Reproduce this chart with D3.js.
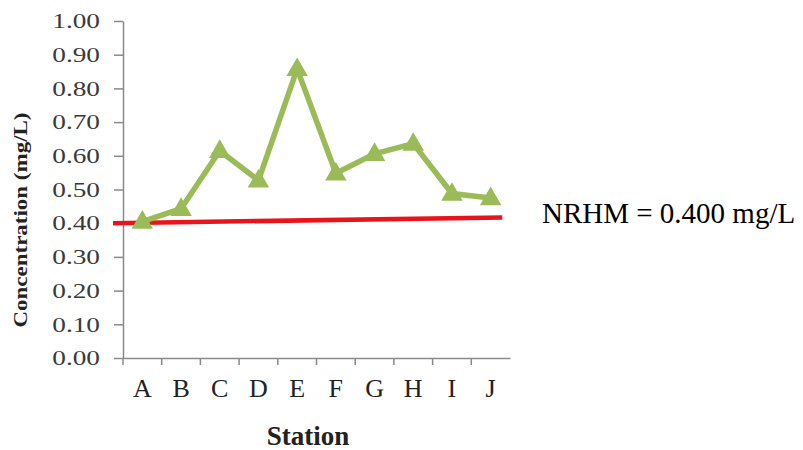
<!DOCTYPE html>
<html>
<head>
<meta charset="utf-8">
<script src="https://cdn.jsdelivr.net/npm/d3@7"></script>
<style>
  body { margin: 0; background: #fff; }
  svg { display: block; font-family: "Liberation Serif", "Times New Roman", serif; }
</style>
</head>
<body>
<div id="vizArea"></div>
<script>
const stations = ['A', 'B', 'C', 'D', 'E', 'F', 'G', 'H', 'I', 'J']
const concentration = [0.405, 0.443, 0.615, 0.527, 0.858, 0.548, 0.606, 0.636, 0.488, 0.475]
const yTicks = [0, 0.1, 0.2, 0.3, 0.4, 0.5, 0.6, 0.7, 0.8, 0.9, 1.0]
// NRHM guideline as drawn (start / end value)
const nrhmLine = [0.40, 0.417]
const nrhmLabel = 'NRHM = 0.400 mg/L'

const width = 803, height = 450
const margin = {top: 21, right: 293, bottom: 92, left: 123}
const plotW = width - margin.left - margin.right
const plotH = height - margin.top - margin.bottom

const svg = d3.select('#vizArea')
    .append('svg')
    .attr('width', width)
    .attr('height', height)

const g = svg.append('g')
    .attr('transform', `translate(${margin.left},${margin.top})`)

const x = d3.scaleBand().domain(stations).range([0, plotW])
const y = d3.scaleLinear().domain([0, 1]).range([plotH, 0])

const axisColor = '#8a8a8a'

// y axis
const sx = 1.3
const yAxis = g.append('g')
    .call(d3.axisLeft(y).tickValues(yTicks).tickFormat(d3.format('.2f')).tickSize(9).tickSizeOuter(0))
yAxis.select('.domain').attr('stroke', axisColor).attr('stroke-width', 1.5)
yAxis.selectAll('.tick line').attr('stroke', axisColor).attr('stroke-width', 1.5)
yAxis.selectAll('.tick text')
    .attr('x', -23 / sx)
    .attr('transform', `scale(${sx},1)`)
    .attr('fill', '#3a3a3a')
    .style('font-size', '21px')
    .style('font-family', '"Liberation Serif", serif')

// x axis
const xAxis = g.append('g')
    .attr('transform', `translate(0,${plotH})`)
    .call(d3.axisBottom(x).tickSize(0).tickPadding(21).tickSizeOuter(0))
xAxis.select('.domain').attr('stroke', axisColor).attr('stroke-width', 1.5)
xAxis.selectAll('.tick text')
    .attr('fill', '#222')
    .style('font-size', '26px')
    .style('font-family', '"Liberation Serif", serif')

// boundary ticks between categories
xAxis.selectAll('.bound')
    .data(stations)
    .enter()
    .append('line')
    .attr('x1', d => x(d))
    .attr('x2', d => x(d))
    .attr('y1', 0)
    .attr('y2', 7)
    .attr('stroke', axisColor)
    .attr('stroke-width', 1.5)

// NRHM red line
g.append('line')
    .attr('x1', -10)
    .attr('x2', x('J') + x.bandwidth() * 0.8)
    .attr('y1', y(nrhmLine[0]))
    .attr('y2', y(nrhmLine[1]))
    .attr('stroke', '#e8141b')
    .attr('stroke-width', 4.5)

// data line
const data = stations.map((s, i) => ({station: s, value: concentration[i]}))
const cx = d => x(d.station) + x.bandwidth() / 2

g.append('path')
    .datum(data)
    .attr('fill', 'none')
    .attr('stroke', '#9bbb59')
    .attr('stroke-width', 5.5)
    .attr('stroke-linejoin', 'miter')
    .attr('d', d3.line().x(cx).y(d => y(d.value)))

g.selectAll('.marker')
    .data(data)
    .enter()
    .append('path')
    .attr('class', 'marker')
    .attr('transform', d => `translate(${cx(d)},${y(d.value) + 1})`)
    .attr('d', d3.symbol().type(d3.symbolTriangle).size(200))
    .attr('fill', '#9bbb59')

// titles
svg.append('text')
    .attr('transform', 'translate(27,220) rotate(-90)')
    .attr('text-anchor', 'middle')
    .attr('font-weight', 'bold')
    .attr('font-size', 18)
    .attr('textLength', 215)
    .attr('lengthAdjust', 'spacingAndGlyphs')
    .attr('fill', '#222')
    .text('Concentration (mg/L)')

svg.append('text')
    .attr('x', 308)
    .attr('y', 445)
    .attr('text-anchor', 'middle')
    .attr('font-weight', 'bold')
    .attr('font-size', 27)
    .attr('fill', '#222')
    .text('Station')

svg.append('text')
    .attr('x', 542)
    .attr('y', 223)
    .attr('font-size', 29)
    .attr('fill', '#000')
    .text(nrhmLabel)
</script>
</body>
</html>
